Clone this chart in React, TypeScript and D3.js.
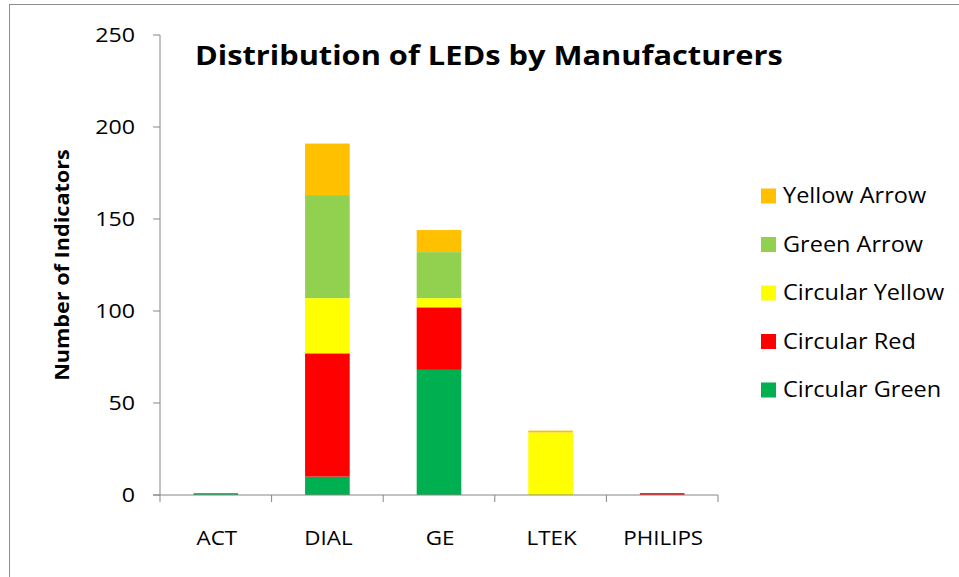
import React from "react";
import * as d3 from "d3";

const categories = ["ACT", "DIAL", "GE", "LTEK", "PHILIPS"];
const seriesNames = ["Circular Green", "Circular Red", "Circular Yellow", "Green Arrow", "Yellow Arrow"];
const circularGreen = [1, 10, 68, 0, 0];
const circularRed = [0, 67, 34, 0, 1];
const circularYellow = [0, 30, 5, 34, 0];
const greenArrow = [0, 56, 25, 0, 0];
const yellowArrow = [0, 28, 12, 1, 0];
const seriesColors = ["#00B050", "#FF0000", "#FFFF00", "#92D050", "#FFC000"];
const yTicks = [0, 50, 100, 150, 200, 250];
const title = "Distribution of LEDs by Manufacturers";
const yTitle = "Number of Indicators";

const W = 959, H = 577;
const plot = { left: 160, right: 718, top: 35, bottom: 495 };
const FONT = "'Open Sans', 'Noto Sans', sans-serif";

function T({ x, y, sx = 1.13, rotate = 0, anchor = "start", size, bold = false, dy = "0", children }: any) {
  return (
    <text
      transform={`translate(${x},${y}) rotate(${rotate}) scale(${sx},1)`}
      x={0}
      y={0}
      dy={dy}
      textAnchor={anchor}
      fontFamily={FONT}
      fontSize={size}
      fontWeight={bold ? "bold" : "normal"}
      fill="#000"
    >
      {children}
    </text>
  );
}

export default function App() {
  const seriesValues = [circularGreen, circularRed, circularYellow, greenArrow, yellowArrow];
  const rows = categories.map((c, i) => {
    const r: any = { cat: c };
    seriesNames.forEach((s, k) => (r[s] = seriesValues[k][i]));
    return r;
  });
  const stacked = d3.stack().keys(seriesNames)(rows);
  const x = d3.scaleBand().domain(categories).range([plot.left, plot.right]).paddingInner(0.6).paddingOuter(0.3);
  const xEdges = d3.scaleLinear().domain([0, categories.length]).range([plot.left, plot.right]);
  const y = d3.scaleLinear().domain([0, 250]).range([plot.bottom, plot.top]);
  const axisColor = "#868686";

  const legendOrder = [...seriesNames].reverse();

  return (
    <svg width={W} height={H} style={{ position: "absolute", left: 0, top: 0, background: "#fff" }}>
      <rect x={9.5} y={4.5} width={W} height={H} fill="#fff" stroke="#8c8c8c" strokeWidth={1} />
      {stacked.map((layer, k) => (
        <g key={layer.key}>
          {layer.map((d, i) =>
            d[1] - d[0] > 0 ? (
              <rect
                key={i}
                x={x(categories[i])}
                y={y(d[1])}
                width={x.bandwidth()}
                height={y(d[0]) - y(d[1])}
                fill={seriesColors[k]}
              />
            ) : null
          )}
        </g>
      ))}
      {/* y axis */}
      <line x1={plot.left} x2={plot.left} y1={plot.top} y2={plot.bottom} stroke={axisColor} />
      {yTicks.map((t) => (
        <g key={t}>
          <line x1={plot.left - 7} x2={plot.left} y1={y(t)} y2={y(t)} stroke={axisColor} />
          <T x={135} y={y(t)} dy="0.35em" anchor="end" size={20} sx={1.16}>
            {t}
          </T>
        </g>
      ))}
      {/* x axis */}
      <line x1={plot.left - 7} x2={plot.right} y1={plot.bottom} y2={plot.bottom} stroke={axisColor} />
      {d3.range(categories.length + 1).map((i) => (
        <line key={i} x1={xEdges(i)} x2={xEdges(i)} y1={plot.bottom} y2={plot.bottom + 7} stroke={axisColor} />
      ))}
      {categories.map((c) => (
        <T key={c} x={(x(c) as number) + x.bandwidth() / 2 + 1} y={545} anchor="middle" size={20} sx={1.12}>
          {c}
        </T>
      ))}
      {/* y title */}
      <T x={69} y={265} rotate={-90} anchor="middle" size={19} bold sx={1.14}>
        {yTitle}
      </T>
      {/* title */}
      <T x={195} y={65} size={27} bold sx={1.14}>
        {title}
      </T>
      {/* legend */}
      {legendOrder.map((s, i) => {
        const k = seriesNames.indexOf(s);
        const cy = 196 + i * 48.5;
        return (
          <g key={s}>
            <rect x={761} y={cy - 7.5} width={15} height={15} fill={seriesColors[k]} />
            <T x={783} y={cy} dy="0.35em" size={21} sx={1.12}>
              {s}
            </T>
          </g>
        );
      })}
    </svg>
  );
}
